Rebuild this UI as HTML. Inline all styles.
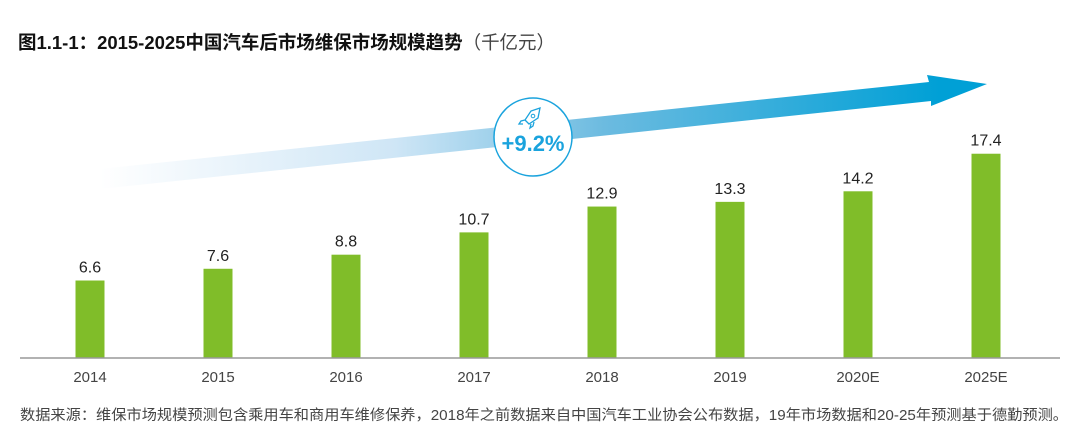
<!DOCTYPE html>
<html><head><meta charset="utf-8"><style>
body{margin:0;background:#fff;width:1080px;height:441px;overflow:hidden;font-family:"Liberation Sans","Noto Sans CJK SC",sans-serif}
</style></head><body>
<svg width="1080" height="441" viewBox="0 0 1080 441">
<defs><linearGradient id="g" x1="100" y1="0" x2="940" y2="0" gradientUnits="userSpaceOnUse">
<stop offset="0" stop-color="#fff"/><stop offset="0.35" stop-color="#cfe6f6"/><stop offset="0.6" stop-color="#6cbbe0"/><stop offset="1" stop-color="#00a0d6"/></linearGradient></defs>
<text x="18" y="49" font-size="18.5" font-weight="bold" fill="#111" textLength="537" lengthAdjust="spacingAndGlyphs" font-family="Liberation Sans,Noto Sans CJK SC,sans-serif">图1.1-1：2015-2025中国汽车后市场维保市场规模趋势<tspan font-weight="normal" fill="#444">（千亿元）</tspan></text>
<polygon points="100,169 929,82 927,75 987,84 931,106 931,101 100,189" fill="url(#g)"/>
<g>
<circle cx="533" cy="137" r="39" fill="#fff" stroke="#1aa3dd" stroke-width="1.5"/>
<path d="M540,108 l-9,3 l-6,9 l4,4 l9,-6 z M525,120 l-4,1 l-2,3 l4,0 M531,124 l-1,4 l3,-2 l1,-4" fill="none" stroke="#1aa3dd" stroke-width="1.3"/>
<circle cx="533" cy="116" r="1.8" fill="none" stroke="#1aa3dd" stroke-width="1"/>
<text x="533" y="151" text-anchor="middle" font-size="22" font-weight="bold" fill="#1aa3dd">+9.2%</text>
</g>
<g id="bars"></g>
<line x1="20" y1="358" x2="1060" y2="358" stroke="#999" stroke-width="1.5"/>
<text x="20" y="420" font-size="14.5" fill="#444" textLength="1048" lengthAdjust="spacingAndGlyphs">数据来源：维保市场规模预测包含乘用车和商用车维修保养，2018年之前数据来自中国汽车工业协会公布数据，19年市场数据和20-25年预测基于德勤预测。</text>
</svg>
<script>
const categories=["2014","2015","2016","2017","2018","2019","2020E","2025E"];
const values=[6.6,7.6,8.8,10.7,12.9,13.3,14.2,17.4];
const labels=["6.6","7.6","8.8","10.7","12.9","13.3","14.2","17.4"];
const g=document.getElementById('bars');
const ns='http://www.w3.org/2000/svg';
const x=i=>90+i*128, y=v=>358-v*11.74;
values.forEach((v,i)=>{
 const r=document.createElementNS(ns,'rect');
 r.setAttribute('x',x(i)-14.5);r.setAttribute('y',y(v));r.setAttribute('width',29);r.setAttribute('height',358-y(v));r.setAttribute('fill','#80bd29');
 
 
 g.appendChild(r);
 const t=document.createElementNS(ns,'text');
 t.setAttribute('x',x(i));t.setAttribute('y',y(v)-8);t.setAttribute('text-anchor','middle');t.setAttribute('font-size','16');t.setAttribute('fill','#222');
 t.textContent=labels[i];
 
 
 g.appendChild(t);
 const c=document.createElementNS(ns,'text');
 c.setAttribute('x',x(i));c.setAttribute('y',382);c.setAttribute('text-anchor','middle');c.setAttribute('font-size','15');c.setAttribute('fill','#444');
 c.textContent=categories[i];
 
 
 g.appendChild(c);
});
</script>
</body></html>
